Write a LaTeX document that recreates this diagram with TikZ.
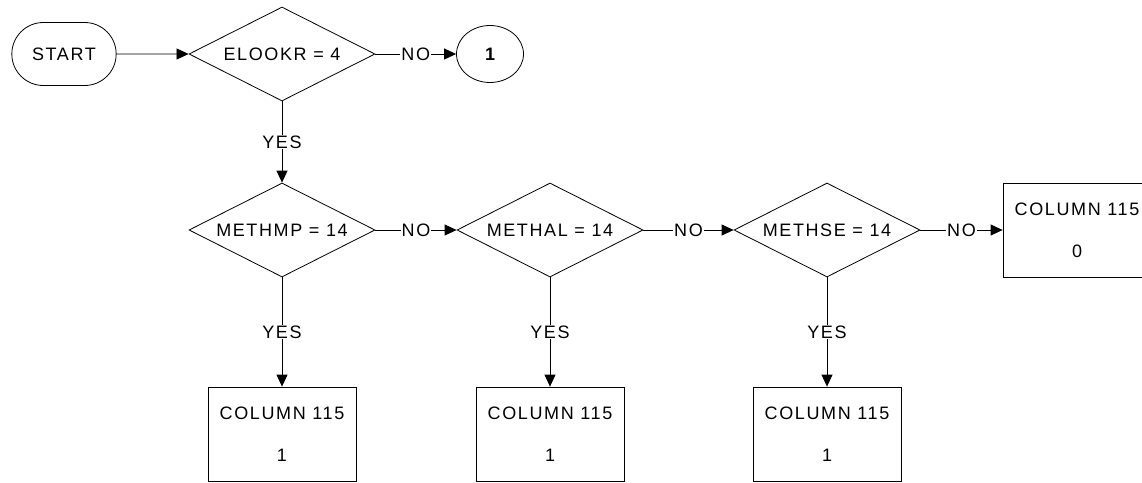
\documentclass[tikz,border=0pt]{standalone}
\usepackage{fontspec}
\setmainfont{Liberation Sans}[LetterSpace=9]
\usetikzlibrary{arrows.meta,positioning,shapes.geometric,shapes.misc}

\begin{document}
\begin{tikzpicture}[x=1pt,y=-1pt,line width=0.8pt,font=\fontsize{18}{21}\selectfont,
  dec/.style={draw,diamond,aspect=2,inner sep=0pt,minimum width=186pt,minimum height=94pt},
  box/.style={draw,rectangle,minimum width=148pt,minimum height=94pt,align=center,font=\fontsize{18}{42}\selectfont},
  term/.style={draw,rounded rectangle,minimum width=111pt,minimum height=63pt},
  conn/.style={draw,ellipse,inner sep=0pt,minimum width=67pt,minimum height=57pt,font=\fontsize{18}{21}\selectfont\bfseries},
  lbl/.style={fill=white,inner sep=1pt},
  flow/.style={-{Triangle[length=12pt,width=11pt]}}]
  \clip (0,0) rectangle (1142,482);
  \node[term] (start) at (64,54) {START};
  \node[dec] (elookr) at (282,54) {ELOOKR = 4};
  \node[conn] (one) at (490,54) {1};
  \node[dec] (methmp) at (282,230) {METHMP = 14};
  \node[dec] (methal) at (550,230) {METHAL = 14};
  \node[dec] (methse) at (827,230) {METHSE = 14};
  \node[box] (colzero) at (1077,230) {COLUMN 115\\0};
  \node[box] (colmp) at (282,434) {COLUMN 115\\1};
  \node[box] (colal) at (550,434) {COLUMN 115\\1};
  \node[box] (colse) at (827,434) {COLUMN 115\\1};
  \draw[flow] (start) -- (elookr);
  \foreach \a/\b/\t in {elookr/one/NO, methmp/methal/NO, methal/methse/NO, methse/colzero/NO,
    elookr/methmp/YES, methmp/colmp/YES, methal/colal/YES, methse/colse/YES} {\draw[flow] (\a) -- node[lbl] {\t} (\b);}
\end{tikzpicture}
\end{document}
